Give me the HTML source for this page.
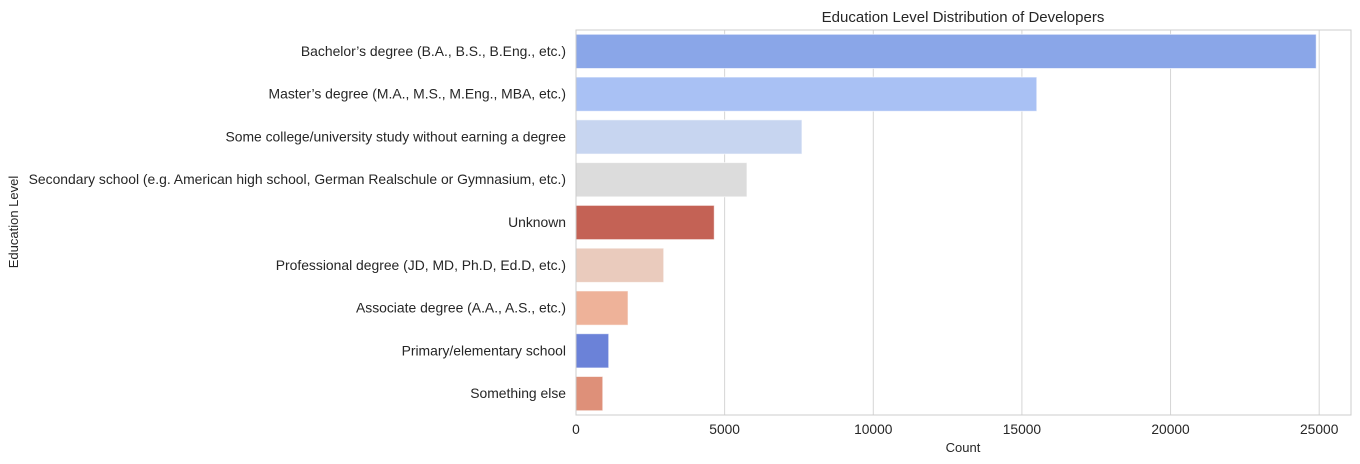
<!DOCTYPE html>
<html><head><meta charset="utf-8"><style>
body{margin:0;background:#fff;}
svg{font-family:"Liberation Sans",Arial,sans-serif;display:block}
</style></head><body>
<svg id="chart" width="1360" height="464" xmlns="http://www.w3.org/2000/svg">
<rect width="1360" height="464" fill="#fff"/>
<text x="963" y="22" text-anchor="middle" font-size="15" fill="#262626">Education Level Distribution of Developers</text>
<g id="grid"></g><g id="bars"></g><g id="ylabels"></g><g id="xticks"></g>
<rect x="576" y="30" width="775" height="385" fill="none" stroke="#cccccc" stroke-width="1"/>
<text x="963" y="452" text-anchor="middle" font-size="13" fill="#262626">Count</text>
<text transform="translate(18,222) rotate(-90)" text-anchor="middle" font-size="13" fill="#262626">Education Level</text>
</svg>
<script>
const categories=["Bachelor’s degree (B.A., B.S., B.Eng., etc.)","Master’s degree (M.A., M.S., M.Eng., MBA, etc.)","Some college/university study without earning a degree","Secondary school (e.g. American high school, German Realschule or Gymnasium, etc.)","Unknown","Professional degree (JD, MD, Ph.D, Ed.D, etc.)","Associate degree (A.A., A.S., etc.)","Primary/elementary school","Something else"];
const counts=[24900,15500,7600,5750,4650,2950,1750,1100,900];
const barColors=["#8aa6e8","#a9c1f4","#c7d5f0","#dcdcdc","#c46255","#eacbbd","#eeb299","#6b82d8","#de9079"];
const xTicks=[0,5000,10000,15000,20000,25000];
const NS="http://www.w3.org/2000/svg";
const x0=576,x1=1351,y0=30,y1=415,xMax=26070;
const xs=v=>x0+v/xMax*(x1-x0);
const band=(y1-y0)/categories.length;
function mk(t,a){const e=document.createElementNS(NS,t);for(const k in a)e.setAttribute(k,a[k]);return e;}
const grid=document.getElementById('grid'),bars=document.getElementById('bars'),yl=document.getElementById('ylabels'),xt=document.getElementById('xticks');
xTicks.forEach(t=>{
 const l=mk('line',{x1:xs(t),x2:xs(t),y1:y0,y2:y1,stroke:'#d5d5d5','stroke-width':1});
 
 
 grid.appendChild(l);
 const tx=mk('text',{x:xs(t),y:y1+19,'text-anchor':'middle','font-size':13.8,fill:'#262626'});
 tx.textContent=t;
 
 
 xt.appendChild(tx);
});
categories.forEach((c,i)=>{
 const cy=y0+band*(i+0.5),h=band*0.8;
 const r=mk('rect',{x:x0,y:cy-h/2,width:xs(counts[i])-x0,height:h,fill:barColors[i],stroke:'rgba(255,255,255,0.6)','stroke-width':1});
 
 
 bars.appendChild(r);
 const t=mk('text',{x:566,y:cy+4.5,'text-anchor':'end','font-size':13.9,fill:'#262626'});
 t.textContent=c;
 
 
 yl.appendChild(t);
});
</script>
</body></html>
